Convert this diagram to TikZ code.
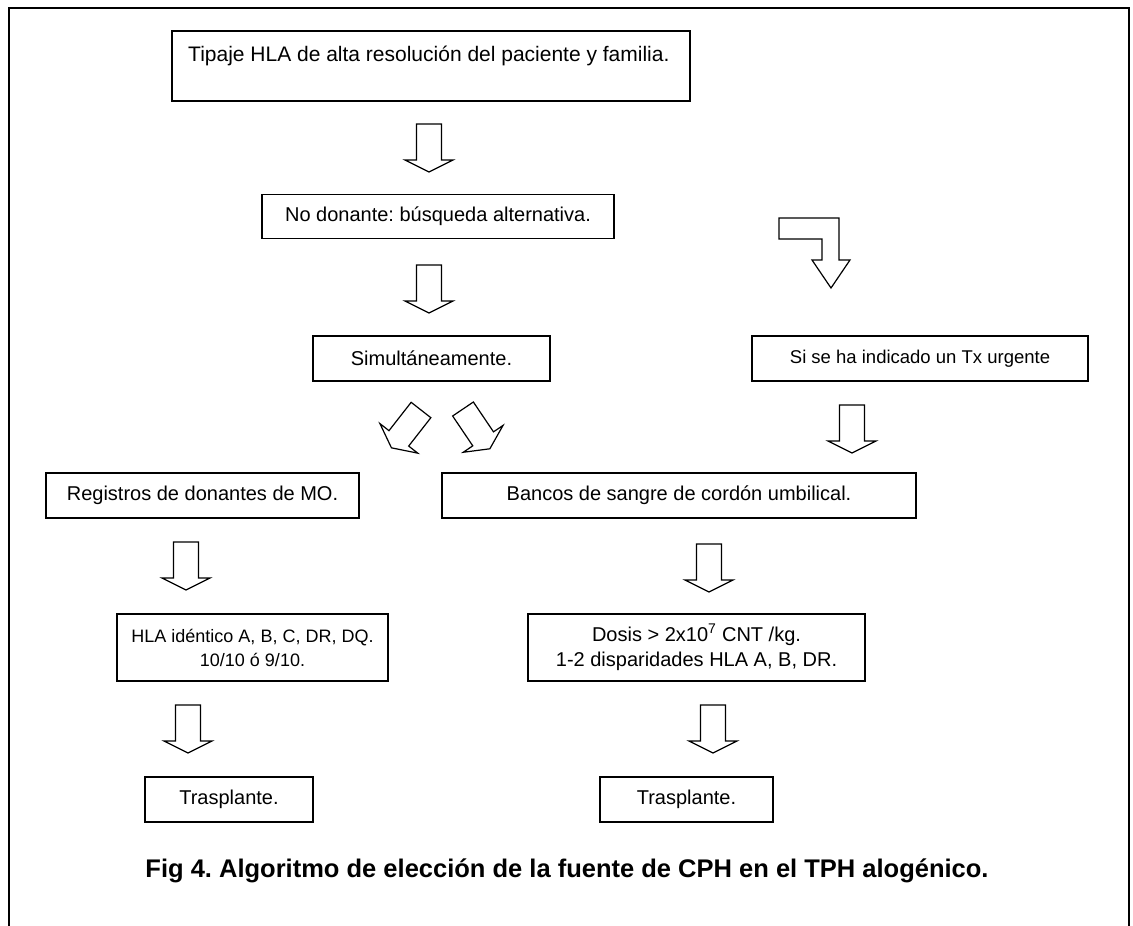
\documentclass[tikz,border=0pt]{standalone}
\usepackage{fontspec}
\setmainfont{Liberation Sans}
\frenchspacing
\begin{document}
\begin{tikzpicture}[x=1pt,y=-1pt,
  box/.style={draw, line width=1.2pt, inner sep=0pt, align=center,
    font=\fontsize{20}{25}\selectfont},
  blk/.style={draw, line width=1.2pt, fill=white, line join=miter},
  darr/.pic={\draw[blk] (-12.5,0) -- (12.5,0) -- (12.5,36) -- (24,36)
     -- (0,48) -- (-24,36) -- (-12.5,36) -- cycle;}]
\useasboundingbox (0,0) rectangle (1133,926);

% outer frame, open at the bottom
\draw[line width=1.3pt] (9,926) -- (9,8) -- (1129,8);
\draw[line width=2.4pt] (1129,7.4) -- (1129,926);

% boxes
\node[box, minimum width=518pt, minimum height=70pt] (tipaje) at (431,66) {};
\node[font=\fontsize{21}{25}\selectfont, anchor=west, inner sep=0pt] (tipajetxt) at (188,56)
  {Tipaje HLA de alta resolución del paciente y familia.};
\node[box, minimum width=352pt, minimum height=44pt] (nodon) at (438,216.5)
  {No donante: búsqueda alternativa.};
\node[box, minimum width=237pt, minimum height=45pt] (simul) at (431.5,358.5)
  {Simultáneamente.};
\node[box, minimum width=336pt, minimum height=45pt,
  font=\fontsize{18.5}{22}\selectfont] (urg) at (920,358.5)
  {Si se ha indicado un Tx urgente};
\node[box, minimum width=313pt, minimum height=45pt] (reg) at (202.5,495.5)
  {Registros de donantes de MO.};
\node[box, minimum width=474pt, minimum height=45pt] (banc) at (679,495.5)
  {Bancos de sangre de cordón umbilical.};
\node[box, minimum width=271pt, minimum height=67pt,
  font=\fontsize{18}{24}\selectfont] (hla) at (252.5,647.5)
  {HLA idéntico A, B, C, DR, DQ.\\10/10 ó 9/10.};
\node[box, minimum width=337pt, minimum height=67pt] (dosis) at (696.5,647.5)
  {Dosis > 2x10\textsuperscript{7} CNT /kg.\\1-2 disparidades HLA A, B, DR.};
\node[box, minimum width=168pt, minimum height=45pt] (trasl) at (229,799.5)
  {Trasplante.};
\node[box, minimum width=173pt, minimum height=45pt] (trasr) at (686.5,799.5)
  {Trasplante.};

% block arrows
\pic (a1) at (429,124) {darr};
\pic (a2) at (429,265) {darr};
\pic[rotate=-38] (a3) at (421,410) {darr};
\pic[rotate=34] (a4) at (463,409) {darr};
\pic (a5) at (852,405) {darr};
\pic (a6) at (186,542) {darr};
\pic (a7) at (709,544) {darr};
\pic (a8) at (188,705) {darr};
\pic (a9) at (713,705) {darr};

% bent arrow towards the urgent branch
\draw[blk] (779,218) -- (839,218) -- (839,260) -- (850,260) -- (831,288)
  -- (812,260) -- (822,260) -- (822,239) -- (779,239) -- cycle;

% caption
\node[font=\bfseries\fontsize{25.5}{29}\selectfont, inner sep=0pt] (cap) at (567,871)
  {Fig 4. Algoritmo de elección de la fuente de CPH en el TPH alogénico.};
\end{tikzpicture}
\end{document}
